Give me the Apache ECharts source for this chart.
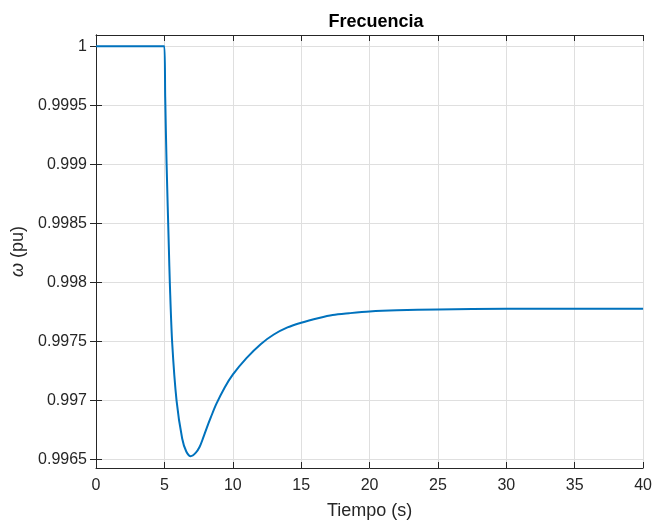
<!DOCTYPE html>
<html><head><meta charset="utf-8">
<script src="https://cdn.jsdelivr.net/npm/echarts@6/dist/echarts.min.js"></script>
<style>html,body{margin:0;padding:0;background:#fff}#c{width:655px;height:525px}</style>
</head><body><div id="c"></div>
<script>
const titleText = 'Frecuencia';
const xName = 'Tiempo (s)';
const yTicks = [0.9965, 0.997, 0.9975, 0.998, 0.9985, 0.999, 0.9995, 1];
const xTicks = [0, 5, 10, 15, 20, 25, 30, 35, 40];
const tData = [0, 4.9, 5, 5.06, 5.16, 5.33, 5.40, 5.57, 5.89, 6.30, 6.6, 6.93, 7.3, 7.58, 7.82, 8.1, 8.4, 8.79, 9.4, 10, 11, 12.06, 13, 14, 15, 16.3, 17.3, 18.5, 20, 22, 25, 30, 40];
const wData = [1, 1, 1, 0.99957, 0.99901, 0.99828, 0.99799, 0.99749, 0.997, 0.99668, 0.99657, 0.99653, 0.99656, 0.99661, 0.99668, 0.99677, 0.99686, 0.99697, 0.99711, 0.99722, 0.99736, 0.99748, 0.99756, 0.99762, 0.99766, 0.9977, 0.997725, 0.99774, 0.997755, 0.997765, 0.997772, 0.997778, 0.997778];

const axisCol = '#262626';
const font = 'Liberation Sans, Arial, Helvetica, sans-serif';
const chart = echarts.init(document.getElementById('c'));
const fmt = v => String(Math.round(v * 1e4) / 1e4);
const yMin = 0.99643, yMax = 1.000095;
const commonY = {
  type: 'value', min: yMin, max: yMax,
  axisLine: {show: true, lineStyle: {color: axisCol, width: 1}},
  axisTick: {show: true, inside: true, length: 6, customValues: yTicks, lineStyle: {color: axisCol}},
  splitLine: {show: false}
};
const commonX = {
  type: 'value', min: 0, max: 40, interval: 5,
  axisLine: {show: true, lineStyle: {color: axisCol, width: 1}},
  axisTick: {show: true, inside: true, length: 6, lineStyle: {color: axisCol}},
  splitLine: {show: false}
};
chart.setOption({
  animation: false,
  backgroundColor: '#fff',
  title: {text: titleText, left: 371, top: 8, textAlign: 'center',
    textStyle: {fontFamily: font, fontSize: 18, fontWeight: 'bold', color: '#000'}},
  grid: {left: 96, right: 9, top: 35, bottom: 56, containLabel: false},
  xAxis: [
    Object.assign({}, commonX, {
      position: 'bottom',
      name: xName, nameLocation: 'middle', nameGap: 34,
      nameTextStyle: {fontFamily: font, fontSize: 18, color: axisCol},
      axisLabel: {show: true, margin: 10, fontFamily: font, fontSize: 16, color: axisCol, formatter: v => String(v)},
      splitLine: {show: true, lineStyle: {color: '#dfdfdf', width: 1}}
    }),
    Object.assign({}, commonX, {position: 'top', axisLabel: {show: false}})
  ],
  yAxis: [
    Object.assign({}, commonY, {
      position: 'left',
      name: '{i|ω} (pu)', nameLocation: 'middle', nameGap: 54, nameRotate: 90,
      nameTextStyle: {fontFamily: font, fontSize: 18, color: axisCol,
        rich: {i: {fontFamily: font, fontSize: 18, fontStyle: 'italic', color: axisCol}}},
      axisLabel: {show: true, margin: 9, fontFamily: font, fontSize: 16, color: axisCol,
        customValues: yTicks, formatter: fmt},
      splitLine: {show: true, lineStyle: {color: '#dfdfdf', width: 1}}
    }),
    Object.assign({}, commonY, {position: 'right', axisLabel: {show: false}})
  ],
  series: [{
    type: 'line', xAxisIndex: 0, yAxisIndex: 0,
    data: tData.map((t, i) => [t, wData[i]]),
    showSymbol: false, smooth: 0.3,
    lineStyle: {color: '#0072BD', width: 2},
    clip: true
  }]
});
</script></body></html>
